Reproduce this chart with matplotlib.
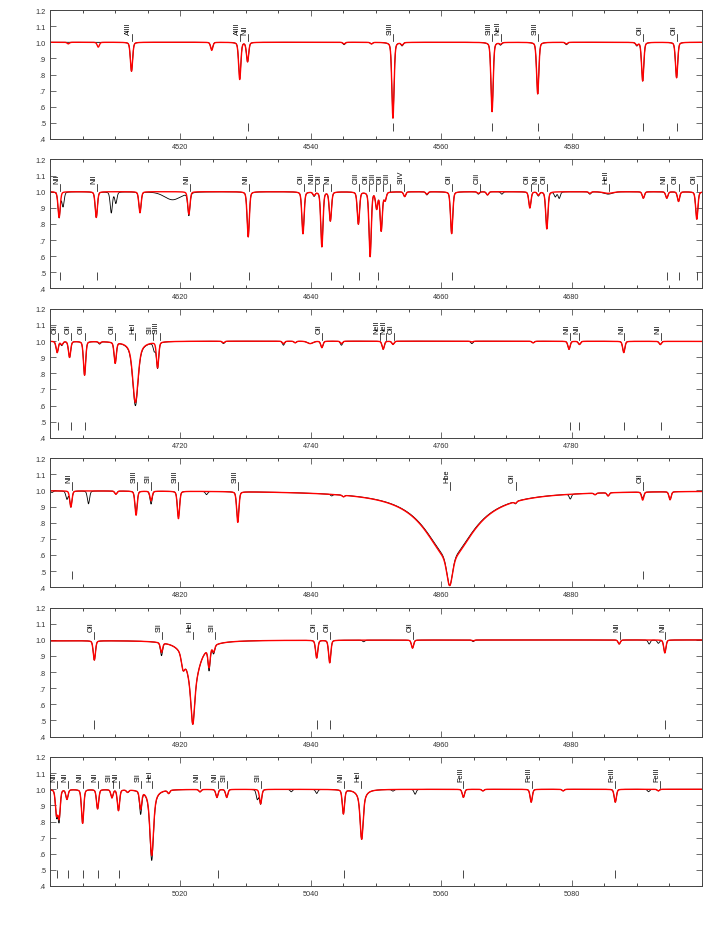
import numpy as np
import matplotlib.pyplot as plt
from matplotlib.ticker import MultipleLocator

plt.rcParams['font.family'] = ['Liberation Sans', 'DejaVu Sans']

starts = [4500, 4600, 4700, 4800, 4900, 5000]

# line lists: centre (A), depth in the model fit (red), depth in the observed spectrum (black)
wave1 = [4502.8, 4507.4, 4512.5, 4524.8, 4529.1, 4530.3, 4545.1, 4549.3, 4552.6, 4554.0,
         4567.8, 4569.1, 4574.8, 4579.2, 4590.0, 4590.9, 4596.1]
fit1 = [0.01, 0.03, 0.18, 0.05, 0.23, 0.12, 0.01, 0.01, 0.47, 0.015,
        0.43, 0.01, 0.32, 0.01, 0.015, 0.24, 0.22]
obs1 = [0.0, 0.0, 0.18, 0.045, 0.22, 0.12, 0.015, 0.01, 0.47, 0.02,
        0.43, 0.015, 0.32, 0.015, 0.02, 0.24, 0.22]

wave2 = [4601.4, 4602.0, 4607.1, 4609.4, 4610.1, 4613.8, 4618.8, 4621.3, 4630.4, 4638.8,
         4640.5, 4641.7, 4643.0, 4647.3, 4649.1, 4650.1, 4650.8, 4651.4, 4654.4, 4657.8,
         4661.6, 4665.7, 4667.1, 4669.3, 4673.6, 4674.9, 4676.2, 4677.5, 4678.1, 4682.8,
         4685.6, 4691.0, 4694.6, 4696.4, 4699.2]
fit2 = [0.16, 0.0, 0.16, 0.0, 0.0, 0.13, 0.0, 0.14, 0.28, 0.26,
        0.02, 0.34, 0.18, 0.20, 0.40, 0.10, 0.24, 0.05, 0.03, 0.015,
        0.26, 0.01, 0.02, 0.0, 0.10, 0.02, 0.23, 0.0, 0.0, 0.01,
        0.01, 0.04, 0.04, 0.06, 0.17]
obs2 = [0.16, 0.09, 0.16, 0.13, 0.07, 0.13, 0.05, 0.14, 0.28, 0.26,
        0.025, 0.34, 0.18, 0.20, 0.40, 0.10, 0.24, 0.05, 0.03, 0.02,
        0.26, 0.015, 0.02, 0.015, 0.10, 0.025, 0.23, 0.03, 0.04, 0.015,
        0.015, 0.04, 0.04, 0.06, 0.17]

wave3 = [4701.1, 4701.8, 4703.0, 4705.3, 4707.6, 4710.0, 4713.1, 4716.0, 4716.5, 4726.6,
         4735.8, 4737.6, 4739.9, 4741.7, 4744.7, 4751.1, 4752.6, 4764.7, 4774.1, 4779.6,
         4781.2, 4788.0, 4793.6]
fit3 = [0.07, 0.02, 0.10, 0.21, 0.01, 0.13, 0.28, 0.0, 0.16, 0.01,
        0.015, 0.01, 0.015, 0.04, 0.015, 0.05, 0.02, 0.005, 0.01, 0.05,
        0.02, 0.07, 0.02]
obs3 = [0.07, 0.025, 0.10, 0.21, 0.015, 0.13, 0.29, 0.05, 0.16, 0.015,
        0.025, 0.01, 0.015, 0.04, 0.025, 0.05, 0.02, 0.015, 0.01, 0.05,
        0.02, 0.07, 0.02]

wave4 = [4800.3, 4802.6, 4803.2, 4805.9, 4810.1, 4813.2, 4815.5, 4819.7, 4824.0, 4828.8,
         4843.2, 4845.0, 4861.3, 4871.4, 4879.8, 4883.6, 4885.6, 4890.9, 4895.1]
fit4 = [0.0, 0.0, 0.10, 0.0, 0.02, 0.15, 0.06, 0.17, 0.0, 0.19,
        0.0, 0.01, 0.17, 0.01, 0.0, 0.01, 0.02, 0.05, 0.05]
obs4 = [0.01, 0.05, 0.10, 0.08, 0.02, 0.14, 0.08, 0.16, 0.02, 0.18,
        0.01, 0.01, 0.18, 0.015, 0.03, 0.01, 0.02, 0.04, 0.05]

wave5 = [4906.8, 4917.1, 4920.4, 4921.9, 4924.4, 4925.1, 4940.9, 4942.9, 4948.1, 4955.6,
         4964.9, 4987.3, 4991.9, 4993.3, 4994.3]
fit5 = [0.12, 0.06, 0.08, 0.22, 0.12, 0.04, 0.11, 0.14, 0.0, 0.05,
        0.005, 0.025, 0.0, 0.0, 0.08]
obs5 = [0.12, 0.08, 0.08, 0.22, 0.14, 0.05, 0.11, 0.14, 0.01, 0.05,
        0.01, 0.025, 0.025, 0.02, 0.08]

wave6 = [5001.0, 5001.4, 5002.6, 5005.0, 5007.3, 5009.5, 5010.5, 5011.9, 5013.9, 5015.6,
         5018.2, 5023.0, 5025.6, 5027.1, 5031.8, 5032.3, 5037.0, 5040.9, 5045.0, 5047.8,
         5052.6, 5056.0, 5063.4, 5066.4, 5073.8, 5078.7, 5086.7, 5091.8, 5093.3]
fit6 = [0.15, 0.17, 0.06, 0.21, 0.12, 0.05, 0.13, 0.015, 0.11, 0.26,
        0.02, 0.015, 0.05, 0.05, 0.0, 0.09, 0.0, 0.0, 0.15, 0.21,
        0.0, 0.0, 0.05, 0.01, 0.08, 0.01, 0.08, 0.0, 0.01]
obs6 = [0.16, 0.19, 0.06, 0.21, 0.12, 0.05, 0.13, 0.015, 0.14, 0.28,
        0.02, 0.015, 0.05, 0.05, 0.06, 0.09, 0.015, 0.025, 0.15, 0.21,
        0.01, 0.03, 0.05, 0.01, 0.08, 0.01, 0.08, 0.015, 0.01]

# half widths of lines that are not narrow (default 0.2 A)
core_hw = {4713.1: 0.45, 4861.3: 0.5, 4921.9: 0.3, 5015.6: 0.3, 5047.8: 0.25,
           4618.8: 1.5, 4685.6: 0.8, 4739.9: 0.5, 4920.4: 0.3}

# pressure broadened wings (He I, H beta)
broad_wave = [4713.1, 4861.3, 4921.9, 5015.6, 5047.8]
broad_fit = [0.10, 0.42, 0.30, 0.15, 0.10]
broad_obs = [0.11, 0.41, 0.30, 0.16, 0.10]
broad_hw = [0.8, 4.5, 1.1, 0.5, 0.5]

# line identifications
lab1 = ['AlIII', 'AlIII', 'NII', 'SiIII', 'SiIII', 'NeII', 'SiIII', 'OII', 'OII']
labw1 = [4512.5, 4529.2, 4530.4, 4552.6, 4567.8, 4569.1, 4574.8, 4591.0, 4596.2]
lab2 = ['NII', 'NII', 'NII', 'NII', 'OII', 'NIII', 'OII', 'NII', 'CIII', 'OII', 'CIII', 'OII', 'CIII',
        'SiIV', 'OII', 'CIII', 'OII', 'NII', 'OII', 'HeII', 'NII', 'OII', 'OII']
labw2 = [4601.5, 4607.2, 4621.4, 4630.5, 4638.9, 4640.6, 4641.8, 4643.1, 4647.4, 4648.9, 4650.0,
         4651.1, 4652.2, 4654.3, 4661.6, 4665.9, 4673.7, 4674.9, 4676.2, 4685.7, 4694.6, 4696.4, 4699.2]
lab3 = ['OII', 'OII', 'OII', 'OII', 'HeI', 'SII', 'SiIII', 'OII', 'NeII', 'NeII', 'OII',
        'NII', 'NII', 'NII', 'NII']
labw3 = [4701.2, 4703.2, 4705.3, 4710.0, 4713.1, 4715.8, 4716.8, 4741.7, 4750.6, 4751.6, 4752.7,
         4779.7, 4781.2, 4788.1, 4793.7]
lab4 = ['NII', 'SiIII', 'SII', 'SiIII', 'SiIII', 'Hbe', 'OII', 'OII']
labw4 = [4803.3, 4813.3, 4815.5, 4819.7, 4828.9, 4861.3, 4871.4, 4890.9]
lab5 = ['OII', 'SII', 'HeI', 'SII', 'OII', 'OII', 'OII', 'NII', 'NII']
labw5 = [4906.8, 4917.2, 4921.9, 4925.3, 4941.0, 4943.0, 4955.7, 4987.4, 4994.4]
lab6 = ['NII', 'NII', 'NII', 'NII', 'SII', 'NII', 'SII', 'HeI', 'NII', 'NII', 'SII', 'SII',
        'NII', 'HeI', 'FeIII', 'FeIII', 'FeIII', 'FeIII']
labw6 = [5001.1, 5002.7, 5005.1, 5007.3, 5009.6, 5010.6, 5014.0, 5015.7, 5023.0, 5025.7, 5027.2,
         5032.4, 5045.1, 5047.7, 5063.4, 5073.9, 5086.7, 5093.6]

# lines used in the abundance analysis (marks at the bottom)
mark1 = [4530.4, 4552.6, 4567.8, 4574.8, 4591.0, 4596.2]
mark2 = [4601.5, 4607.2, 4621.4, 4630.5, 4643.1, 4647.4, 4650.3, 4661.6, 4694.6, 4696.4, 4699.2]
mark3 = [4701.2, 4703.2, 4705.3, 4779.7, 4781.2, 4788.1, 4793.7]
mark4 = [4803.3, 4890.9]
mark5 = [4906.8, 4941.0, 4943.0, 4994.4]
mark6 = [5001.1, 5002.7, 5005.1, 5007.3, 5010.6, 5025.7, 5045.1, 5063.4, 5086.7]

waves = [wave1, wave2, wave3, wave4, wave5, wave6]
fits = [fit1, fit2, fit3, fit4, fit5, fit6]
obss = [obs1, obs2, obs3, obs4, obs5, obs6]
labs = [lab1, lab2, lab3, lab4, lab5, lab6]
labws = [labw1, labw2, labw3, labw4, labw5, labw6]
marks = [mark1, mark2, mark3, mark4, mark5, mark6]


def spectrum(x, centres, depths, bdepths):
    flux = np.ones_like(x)
    for c, d in zip(centres, depths):
        if d == 0:
            continue
        h = core_hw.get(c, 0.2)
        u = (x - c) / h
        flux -= d * (0.7 * np.exp(-np.log(2) * u**2) + 0.3 / (1 + u**2))
    for c, d, h in zip(broad_wave, bdepths, broad_hw):
        flux -= d / (1 + ((x - c) / h)**2)
    return flux


fig = plt.figure(figsize=(7.09, 9.45), dpi=100)
for i, start in enumerate(starts):
    top = 11 + i * 149.4
    ax = fig.add_axes([50 / 709, 1 - (top + 129) / 945, 652 / 709, 129 / 945])
    x = np.arange(start, start + 100.01, 0.02)
    ax.plot(x, spectrum(x, waves[i], obss[i], broad_obs), color='black', lw=0.6)
    ax.plot(x, spectrum(x, waves[i], fits[i], broad_fit), color='red', lw=1.0)

    for name, w in zip(labs[i], labws[i]):
        ax.plot([w, w], [1.005, 1.05], color='black', lw=0.5)
        ax.text(w - 0.45, 1.052, name, rotation=90, ha='center', va='bottom',
                fontsize=5.3, color='black')
    ax.vlines(marks[i], 0.45, 0.50, color='black', lw=0.5)

    ax.set_xlim(start, start + 100)
    ax.set_ylim(0.4, 1.2)
    ax.set_xticks([start + 20, start + 40, start + 60, start + 80])
    ax.xaxis.set_minor_locator(MultipleLocator(5))
    ax.set_yticks([0.4, 0.5, 0.6, 0.7, 0.8, 0.9, 1.0, 1.1, 1.2])
    ax.set_yticklabels(['.4', '.5', '.6', '.7', '.8', '.9', '1.0', '1.1', '1.2'])
    ax.tick_params(direction='in', top=True, right=True, length=4, width=0.5,
                   labelsize=5.3, colors='#333333', pad=3)
    ax.tick_params(which='minor', direction='in', top=True, length=2, width=0.5)
    for s in ax.spines.values():
        s.set_linewidth(0.7)
        s.set_color('#444444')

fig.savefig('out.png', dpi=100)
